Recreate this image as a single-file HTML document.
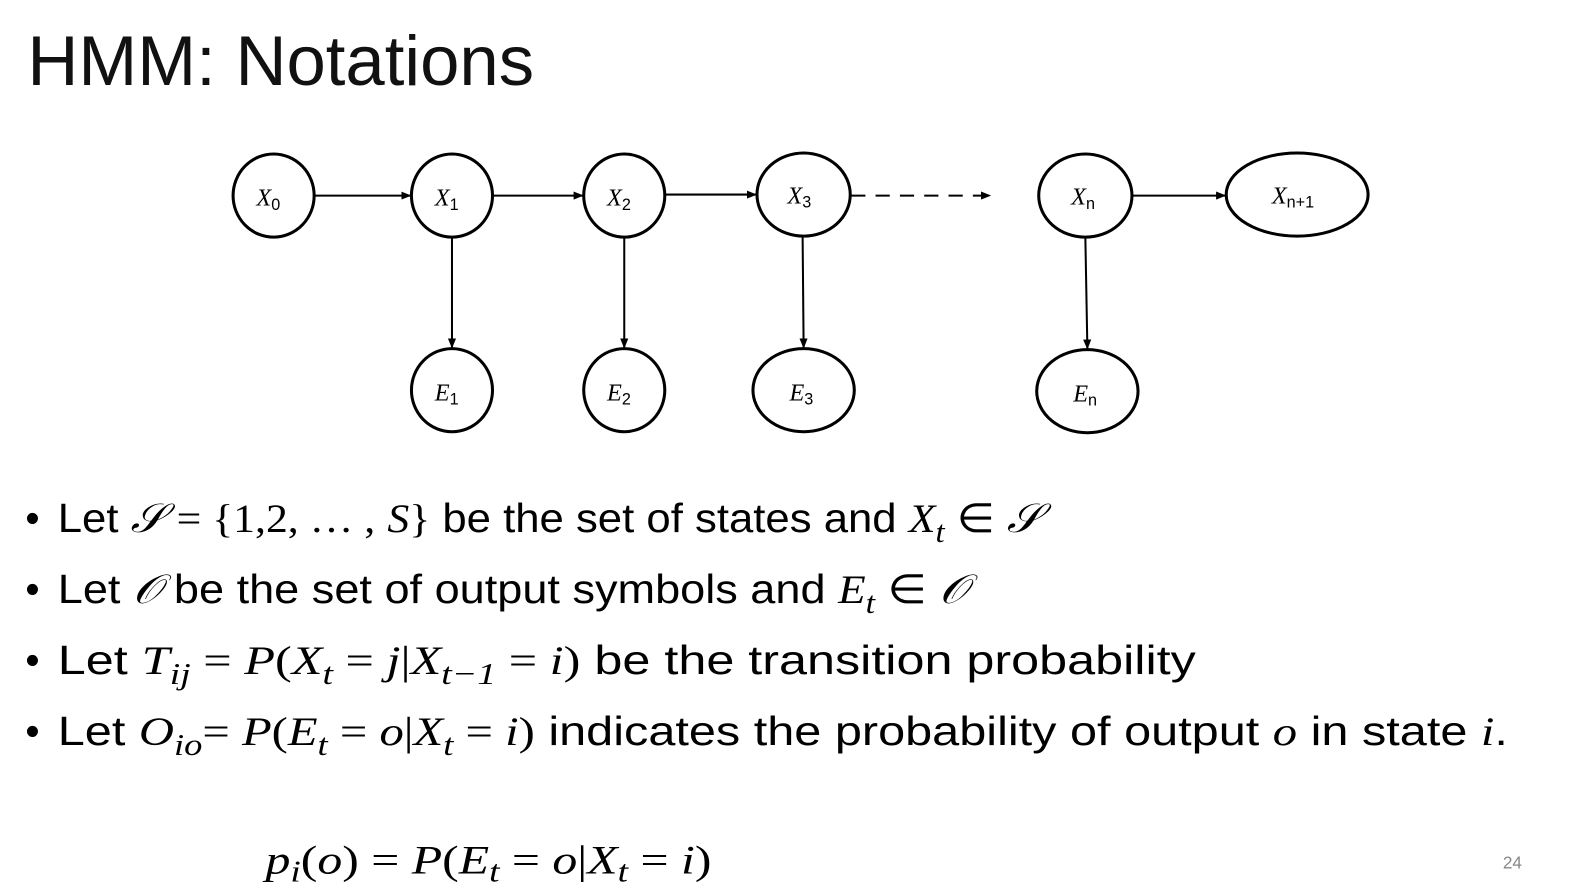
<!DOCTYPE html>
<html><head><meta charset="utf-8"><style>
html,body{margin:0;padding:0;background:#fff;}
svg{display:block;}
.m{font-family:"Liberation Serif",serif;font-style:italic;}
.r{font-family:"Liberation Serif",serif;}
</style></head><body>
<svg width="1588" height="894" viewBox="0 0 1588 894" xmlns="http://www.w3.org/2000/svg" font-family="Liberation Sans, sans-serif">
<defs><marker id="ah" markerWidth="10" markerHeight="8" refX="9" refY="4" orient="auto" markerUnits="userSpaceOnUse"><path d="M0,0 L10,4 L0,8 Z" fill="#000"/></marker></defs>
<g transform="scale(1.0134)">
<text x="27" y="84" font-size="70" fill="#111" textLength="500" lengthAdjust="spacingAndGlyphs">HMM: Notations</text>

<g stroke="#000" stroke-width="3" fill="#fff">
<ellipse cx="270" cy="193" rx="40" ry="41"/>
<ellipse cx="446" cy="193" rx="40" ry="41"/>
<ellipse cx="616" cy="193" rx="40" ry="41"/>
<ellipse cx="793" cy="192" rx="46" ry="41"/>
<ellipse cx="1071" cy="193" rx="46" ry="41"/>
<ellipse cx="1280" cy="192" rx="70" ry="41"/>
<ellipse cx="446" cy="385" rx="40" ry="41"/>
<ellipse cx="616" cy="385" rx="40" ry="41"/>
<ellipse cx="793" cy="385" rx="50" ry="41"/>
<ellipse cx="1073" cy="386" rx="50" ry="41"/>
</g>
<g stroke="#000" stroke-width="2" fill="none">
<line x1="310" y1="193" x2="405" y2="193" marker-end="url(#ah)"/>
<line x1="486" y1="193" x2="575" y2="193" marker-end="url(#ah)"/>
<line x1="656" y1="192" x2="746" y2="192" marker-end="url(#ah)"/>
<line x1="840" y1="193" x2="977" y2="193" stroke-dasharray="14,10" marker-end="url(#ah)"/>
<line x1="1117" y1="193" x2="1209" y2="193" marker-end="url(#ah)"/>
<line x1="446" y1="234" x2="446" y2="343" marker-end="url(#ah)"/>
<line x1="616" y1="234" x2="616" y2="343" marker-end="url(#ah)"/>
<line x1="792" y1="233" x2="793" y2="343" marker-end="url(#ah)"/>
<line x1="1071" y1="234" x2="1073" y2="344" marker-end="url(#ah)"/>
</g>
<g font-size="24" fill="#000">
<text x="253" y="203"><tspan class="m">X</tspan><tspan font-size="16" dy="4">0</tspan></text>
<text x="429" y="203"><tspan class="m">X</tspan><tspan font-size="16" dy="4">1</tspan></text>
<text x="599" y="203"><tspan class="m">X</tspan><tspan font-size="16" dy="4">2</tspan></text>
<text x="777" y="201"><tspan class="m">X</tspan><tspan font-size="16" dy="4">3</tspan></text>
<text x="1057" y="202"><tspan class="m">X</tspan><tspan font-size="16" dy="4">n</tspan></text>
<text x="1255" y="201"><tspan class="m">X</tspan><tspan font-size="16" dy="4">n+1</tspan></text>
<text x="429" y="395"><tspan class="m">E</tspan><tspan font-size="16" dy="4">1</tspan></text>
<text x="599" y="395"><tspan class="m">E</tspan><tspan font-size="16" dy="4">2</tspan></text>
<text x="779" y="395"><tspan class="m">E</tspan><tspan font-size="16" dy="4">3</tspan></text>
<text x="1059" y="396"><tspan class="m">E</tspan><tspan font-size="16" dy="4">n</tspan></text>
</g>

<g font-size="40" fill="#000">
<text x="25" y="525">•</text><text x="25" y="595">•</text><text x="25" y="665">•</text><text x="25" y="735">•</text>
<text x="57" y="525" textLength="970" lengthAdjust="spacingAndGlyphs">Let <tspan class="m">𝒮</tspan> <tspan class="r">= {1,2, … ,</tspan> <tspan class="m">S</tspan><tspan class="r">}</tspan> be the set of states and <tspan class="m">X</tspan><tspan class="m" font-size="30" dy="10">t</tspan><tspan dy="-10"> </tspan><tspan class="r">∈</tspan> <tspan class="m">𝒮</tspan></text>
<text x="57" y="595" textLength="898" lengthAdjust="spacingAndGlyphs">Let <tspan class="m">𝒪</tspan> be the set of output symbols and <tspan class="m">E</tspan><tspan class="m" font-size="30" dy="10">t</tspan><tspan dy="-10"> </tspan><tspan class="r">∈</tspan> <tspan class="m">𝒪</tspan></text>
<text x="57" y="665" textLength="1123" lengthAdjust="spacingAndGlyphs">Let <tspan class="m">T</tspan><tspan class="m" font-size="30" dy="10">ij</tspan><tspan class="r" dy="-10"> = </tspan><tspan class="m">P</tspan><tspan class="r">(</tspan><tspan class="m">X</tspan><tspan class="m" font-size="30" dy="10">t</tspan><tspan class="r" dy="-10"> = </tspan><tspan class="m">j</tspan><tspan class="r">|</tspan><tspan class="m">X</tspan><tspan class="m" font-size="30" dy="10">t−1</tspan><tspan class="r" dy="-10"> = </tspan><tspan class="m">i</tspan><tspan class="r">)</tspan> be the transition probability</text>
<text x="57" y="735" textLength="1431" lengthAdjust="spacingAndGlyphs">Let <tspan class="m">O</tspan><tspan class="m" font-size="30" dy="10">io</tspan><tspan class="r" dy="-10">= </tspan><tspan class="m">P</tspan><tspan class="r">(</tspan><tspan class="m">E</tspan><tspan class="m" font-size="30" dy="10">t</tspan><tspan class="r" dy="-10"> = </tspan><tspan class="m">o</tspan><tspan class="r">|</tspan><tspan class="m">X</tspan><tspan class="m" font-size="30" dy="10">t</tspan><tspan class="r" dy="-10"> = </tspan><tspan class="m">i</tspan><tspan class="r">)</tspan> indicates the probability of output <tspan class="m">o</tspan> in state <tspan class="m">i</tspan>.</text>
</g>
<text x="262" y="862" font-size="40" textLength="440" lengthAdjust="spacingAndGlyphs"><tspan class="m">p</tspan><tspan class="m" font-size="30" dy="8">i</tspan><tspan class="r" dy="-8">(</tspan><tspan class="m">o</tspan><tspan class="r">) = </tspan><tspan class="m">P</tspan><tspan class="r">(</tspan><tspan class="m">E</tspan><tspan class="m" font-size="30" dy="8">t</tspan><tspan class="r" dy="-8"> = </tspan><tspan class="m">o</tspan><tspan class="r">|</tspan><tspan class="m">X</tspan><tspan class="m" font-size="30" dy="8">t</tspan><tspan class="r" dy="-8"> = </tspan><tspan class="m">i</tspan><tspan class="r">)</tspan></text>
<text x="1483" y="857" font-size="17" fill="#888">24</text>
</g>
</svg>
</body></html>
